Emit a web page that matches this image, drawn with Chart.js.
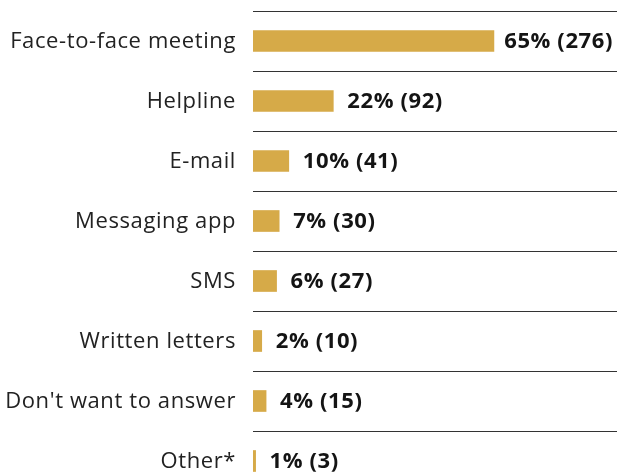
<!DOCTYPE html>
<html>
<head>
<meta charset="utf-8">
<script src="https://cdn.jsdelivr.net/npm/chart.js@4"></script>
<style>
  html, body { margin: 0; padding: 0; background: #fff; overflow: hidden; }
  #wrap { width: 617px; height: 500px; }
</style>
</head>
<body>
<div id="wrap"><canvas id="chart" width="617" height="500"></canvas></div>
<script>
const categories = [
  "Face-to-face meeting",
  "Helpline",
  "E-mail",
  "Messaging app",
  "SMS",
  "Written letters",
  "Don't want to answer",
  "Other*"
];
const counts = [276, 92, 41, 30, 27, 10, 15, 3];
const percents = [65, 22, 10, 7, 6, 2, 4, 1];

const FONT = "'Open Sans', 'Liberation Sans', sans-serif";
const SPACING = "0.6px";

// a little extra tracking for all text on the canvas
const tracking = {
  id: "tracking",
  beforeDraw(chart) { chart.ctx.letterSpacing = SPACING; }
};

// writes "65% (276)" after the end of each bar
const valueLabels = {
  id: "valueLabels",
  afterDatasetsDraw(chart) {
    const ctx = chart.ctx;
    const meta = chart.getDatasetMeta(0);
    ctx.save();
    ctx.letterSpacing = SPACING;
    ctx.font = "bold 22px " + FONT;
    ctx.fillStyle = "#141414";
    ctx.textAlign = "left";
    ctx.textBaseline = "middle";
    meta.data.forEach((bar, i) => {
      const text = percents[i] + "% (" + counts[i] + ")";
      const w = ctx.measureText(text).width;
      let x = bar.x + 14;
      const maxRight = chart.width - 4;
      if (x + w > maxRight) x = Math.max(bar.x + 8, maxRight - w);
      ctx.fillText(text, x, bar.y + 1);
    });
    ctx.restore();
  }
};

new Chart(document.getElementById("chart"), {
  type: "bar",
  data: {
    labels: categories,
    datasets: [{
      data: counts,
      backgroundColor: "#d6aa48",
      barThickness: 21,
      borderWidth: 0
    }]
  },
  options: {
    indexAxis: "y",
    responsive: false,
    animation: false,
    layout: { padding: { top: 11, right: 0, bottom: 9, left: 0 } },
    scales: {
      x: {
        display: false,
        min: 0,
        max: 417
      },
      y: {
        afterFit(scale) {
          scale.width = 253;
          // no extra room above/below for the first and last labels
          scale.paddingTop = 0;
          scale.paddingBottom = 0;
        },
        border: { display: false },
        grid: {
          offset: true,
          drawTicks: false,
          color: "#333",
          lineWidth: 1
        },
        ticks: {
          padding: 17,
          labelOffset: 1,
          color: "#222",
          font: { family: FONT, size: 22 }
        }
      }
    },
    plugins: {
      legend: { display: false },
      tooltip: { enabled: false }
    }
  },
  plugins: [tracking, valueLabels]
});
</script>
</body>
</html>
